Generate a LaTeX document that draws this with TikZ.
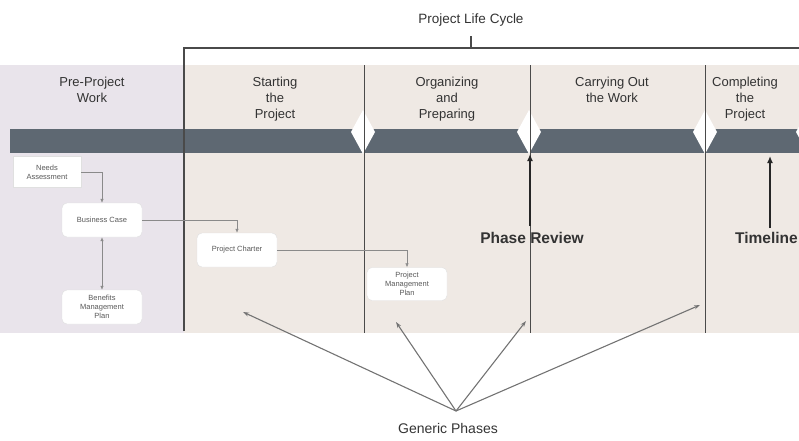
\documentclass[tikz,border=0pt]{standalone}
\usepackage{fontspec}
\setmainfont{Liberation Sans}
\usetikzlibrary{arrows.meta}
\definecolor{bgL}{HTML}{E9E4EB}
\definecolor{bgR}{HTML}{EFE9E4}
\definecolor{barc}{HTML}{5E6872}
\definecolor{txt}{HTML}{333333}
\definecolor{linec}{HTML}{4A4A4A}
\definecolor{flowc}{HTML}{8A8A8A}
\tikzset{
  hdr/.style={anchor=north, inner sep=0pt, align=center, text=txt,
    font=\fontsize{13}{16}\selectfont},
  divider/.style={draw=linec, line width=1pt},
  flowbox/.style={draw=black!12, fill=white, rounded corners=5pt, minimum width=80pt,
    minimum height=34pt, align=center, inner sep=1pt, text=black!65,
    font=\fontsize{7.5}{9}\selectfont},
  flowarr/.style={draw=flowc, line width=0.6pt, -{Latex[length=4pt,width=3.5pt]}},
  genarr/.style={draw=black!55, line width=1.1pt, -{Stealth[length=6pt,width=4pt]}},
  bigarr/.style={draw=black!85, line width=2pt, -{Latex[length=7pt,width=6pt]}},
  milestone/.style={fill=white, draw=none},
  title/.style={text=txt, font=\fontsize{13.5}{16}\selectfont},
  bigtext/.style={text=black!80, font=\bfseries\fontsize{15.5}{18}\selectfont, inner sep=0pt},
}
\begin{document}
\begin{tikzpicture}[x=1pt,y=-1pt]
\useasboundingbox (0,0) rectangle (799,440);
% backgrounds
\fill[bgL] (0,65) rectangle (184,333);
\fill[bgR] (184,65) rectangle (799,333);
% dark bar
\fill[barc] (10,129) rectangle (799,153);
% milestone diamonds
\foreach \mx in {363,529,705,808}{
  \fill[milestone] (\mx,110) -- (\mx+12,132) -- (\mx,154) -- (\mx-12,132) -- cycle;
}
% dividers
\coordinate (d1t) at (364,65); \coordinate (d1b) at (364,333);
\coordinate (d2t) at (530,65); \coordinate (d2b) at (530,333);
\coordinate (d3t) at (705,65); \coordinate (d3b) at (705,333);
\draw[divider] (d1t) -- (d1b);
\draw[divider] (d2t) -- (d2b);
\draw[divider] (d3t) -- (d3b);
% life cycle bracket
\coordinate (bl) at (184,48); \coordinate (bb) at (184,331);
\coordinate (br) at (799,48); \coordinate (bm) at (471,48);
\coordinate (bt) at (471,36);
\node[title] (plc) at (471,20) {Project Life Cycle};
\draw[draw=linec, line width=1.5pt] (bb) -- (bl) -- (br);
\draw[draw=linec, line width=1.5pt] (bm) -- (bt);
% headers
\node[hdr] (h0) at (92,77) {Pre-Project\\Work};
\node[hdr] (h1) at (275,77) {Starting\\the\\Project};
\node[hdr] (h2) at (447,77) {Organizing\\and\\Preparing};
\node[hdr] (h3) at (612,77) {Carrying Out\\the Work};
\node[hdr] (h4) at (745,77) {Completing\\the\\Project};
% flow boxes
\node[flowbox, rounded corners=0pt, minimum width=68pt, minimum height=31pt] (na) at (47,172) {Needs\\Assessment};
\node[flowbox] (bc) at (102,220) {Business Case};
\node[flowbox] (ben) at (102,307) {Benefits\\Management\\Plan};
\node[flowbox] (pc) at (237,250) {Project Charter};
\node[flowbox, minimum height=33pt] (pmp) at (407,284) {Project\\Management\\Plan};
\draw[flowarr] (na.east) -| (bc.north);
\draw[flowarr, {Latex[length=4pt,width=3.5pt]}-{Latex[length=4pt,width=3.5pt]}] (bc.south) -- (ben.north);
\draw[flowarr] (bc.east) -| (pc.north);
\draw[flowarr] (pc.east) -| (pmp.north);
% phase review and timeline
\node[bigtext] (pr) at (532,238) {Phase Review};
\coordinate (prs) at (530,226); \coordinate (pre) at (530,154);
\draw[bigarr] (prs) -- (pre);
\node[bigtext, anchor=east] (tl) at (798,238) {Timeline};
\coordinate (tls) at (770,228); \coordinate (tle) at (770,156);
\draw[bigarr] (tls) -- (tle);
% generic phases
\node[title, font=\fontsize{14}{16}\selectfont] (gp) at (448,428) {Generic Phases};
\coordinate (g0) at (456,411);
\coordinate (ga) at (243,312);
\coordinate (gb) at (396,322);
\coordinate (gc) at (526,321);
\coordinate (gd) at (700,305);
\draw[genarr] (g0) -- (ga);
\draw[genarr] (g0) -- (gb);
\draw[genarr] (g0) -- (gc);
\draw[genarr] (g0) -- (gd);
\end{tikzpicture}
\end{document}
